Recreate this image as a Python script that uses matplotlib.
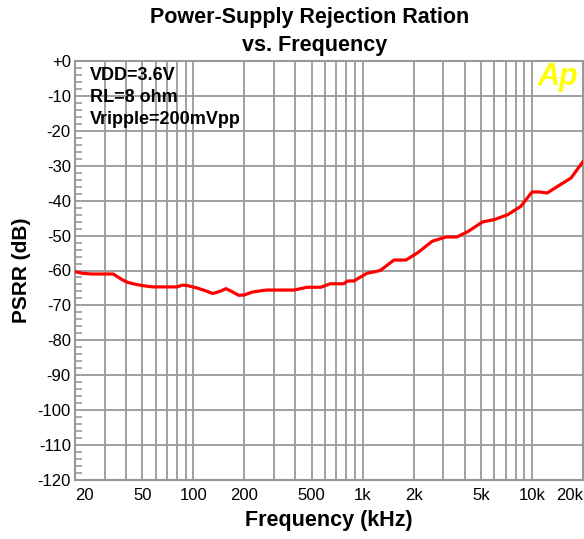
import matplotlib
matplotlib.use("Agg")
import matplotlib.pyplot as plt
from matplotlib.ticker import FixedLocator, NullFormatter, NullLocator

plt.rcParams["font.family"] = ["Liberation Sans", "DejaVu Sans"]

# 読み取った PSRR 曲線
freq = [20, 22, 25, 30, 33.6, 37, 40.4, 44, 48.4, 53, 57.9, 70, 80, 86, 92,
        105, 118, 130, 143, 156, 170, 185, 200, 222, 250, 271, 330, 392, 470,
        565, 644, 770, 816, 887, 960, 1060, 1270, 1530, 1800, 2100, 2580,
        3100, 3600, 4200, 5100, 6000, 7200, 8600, 10000, 11000, 12300, 14700,
        17000, 20000]
psrr = [-60.3, -60.8, -61.0, -61.0, -61.0, -62.3, -63.3, -63.8, -64.2, -64.5,
        -64.7, -64.7, -64.7, -64.2, -64.3, -65.0, -65.8, -66.6, -66.0, -65.2,
        -66.1, -67.1, -67.0, -66.2, -65.8, -65.6, -65.6, -65.6, -64.8, -64.8,
        -63.8, -63.8, -63.0, -63.0, -62.0, -60.8, -60.0, -57.0, -57.0, -55.0,
        -51.6, -50.4, -50.4, -48.8, -46.1, -45.4, -44.0, -41.6, -37.5, -37.5,
        -37.8, -35.4, -33.5, -28.8]

xticks = [20, 50, 100, 200, 500, 1000, 2000, 5000, 10000, 20000]
xticklabels = ["20", "50", "100", "200", "500", "1k", "2k", "5k", "10k", "20k"]
xgrid = [30, 40, 50, 60, 70, 80, 90, 100, 200, 300, 400, 500, 600, 700, 800,
         900, 1000, 2000, 3000, 4000, 5000, 6000, 7000, 8000, 9000, 10000]
yticks = list(range(-120, 1, 10))
yticklabels = ["+0" if v == 0 else str(v) for v in yticks]
notes = ["VDD=3.6V", "RL=8 ohm", "Vripple=200mVpp"]

GRID = "#999999"

fig = plt.figure(figsize=(5.84, 5.39), dpi=100)
ax = fig.add_axes([75 / 584, 1 - 480 / 539, 508 / 584, 419 / 539])

for f in xgrid:
    ax.axvline(f, color=GRID, lw=1.3, zorder=1)
for v in yticks[1:-1]:
    ax.axhline(v, color=GRID, lw=1.3, zorder=1)

ax.plot(freq, psrr, color="#ff0000", lw=2.3, zorder=3)

ax.set_xscale("log")
ax.set_xlim(20, 20000)
ax.set_ylim(-120, 0)
ax.xaxis.set_major_locator(FixedLocator(xticks))
ax.set_xticklabels(xticklabels, fontsize=12)
ax.xaxis.set_minor_locator(NullLocator())
ax.xaxis.set_minor_formatter(NullFormatter())
labs = ax.get_xticklabels()
labs[0].set_ha("left")
labs[-1].set_ha("right")
ax.set_yticks(yticks)
ax.set_yticklabels(yticklabels, fontsize=12)
ax.set_yticks(range(-118, 0, 2), minor=True)
ax.tick_params(axis="x", length=0, pad=6)
ax.tick_params(axis="y", which="major", length=0, pad=3)
ax.tick_params(axis="y", which="minor", direction="in", length=5,
               color=GRID, width=1.2)
for s in ax.spines.values():
    s.set_color(GRID)
    s.set_linewidth(1.5)

ax.set_xlabel("Frequency (kHz)", fontsize=15.5, fontweight="bold", labelpad=5)
ax.set_ylabel("PSRR (dB)", fontsize=15, fontweight="bold", labelpad=5)

fig.text(310 / 584, 1 - 18 / 539, "Power-Supply Rejection Ration",
         ha="center", va="center", fontsize=15.5, fontweight="bold")
fig.text(315 / 584, 1 - 45 / 539, "vs. Frequency",
         ha="center", va="center", fontsize=15.5, fontweight="bold")

for i, t in enumerate(notes):
    ax.text(0.03, 0.965 - i * 0.052, t, transform=ax.transAxes, ha="left",
            va="center", fontsize=13, fontweight="bold", zorder=4)

ax.text(0.99, 0.962, "Ap", transform=ax.transAxes, ha="right", va="center",
        fontsize=22, fontweight="bold", style="italic", color="#ffff00",
        zorder=4)

plt.savefig("out.png", dpi=100, facecolor="white")
